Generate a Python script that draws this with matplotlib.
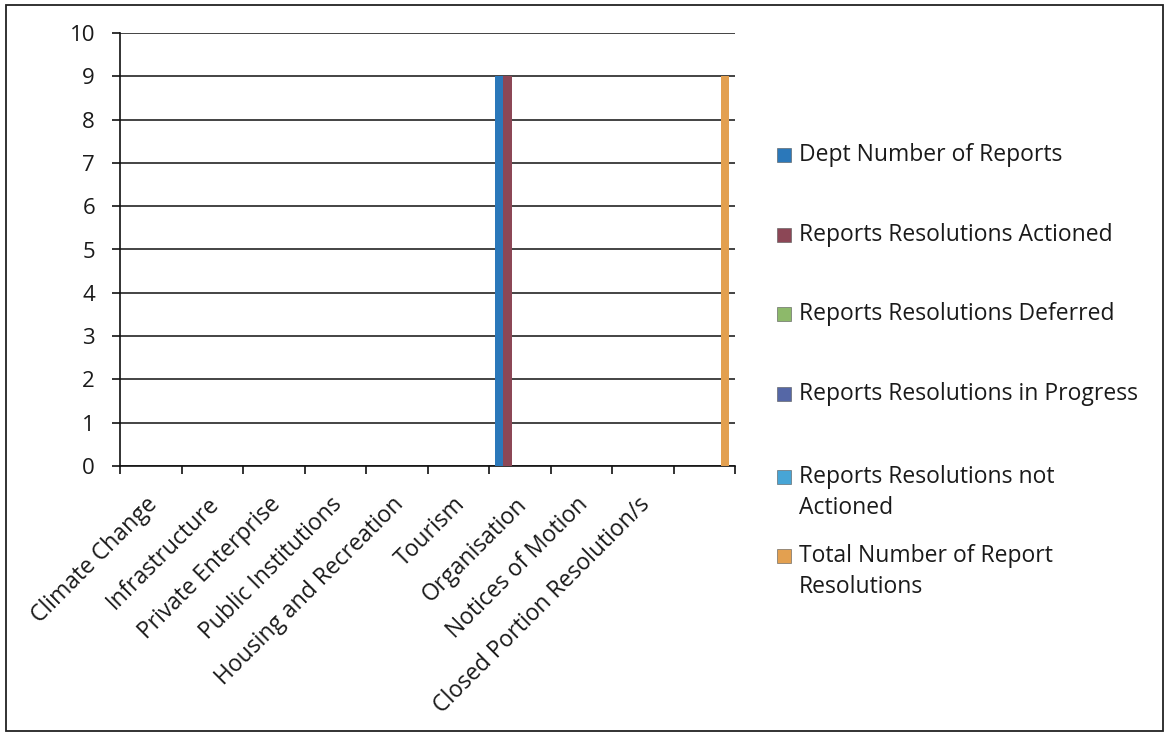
import matplotlib
matplotlib.use("Agg")
import matplotlib.pyplot as plt
from matplotlib.patches import Rectangle
import numpy as np

plt.rcParams['font.family'] = ['Open Sans', 'DejaVu Sans']

categories = ["Climate Change", "Infrastructure", "Private Enterprise",
              "Public Institutions", "Housing and Recreation", "Tourism",
              "Organisation", "Notices of Motion", "Closed Portion Resolution/s", ""]
series_names = ["Dept Number of Reports", "Reports Resolutions Actioned",
                "Reports Resolutions Deferred", "Reports Resolutions in Progress",
                "Reports Resolutions not\nActioned", "Total Number of Report\nResolutions"]
dept_reports = [0, 0, 0, 0, 0, 0, 9, 0, 0, 0]
res_actioned = [0, 0, 0, 0, 0, 0, 9, 0, 0, 0]
res_deferred = [0, 0, 0, 0, 0, 0, 0, 0, 0, 0]
res_progress = [0, 0, 0, 0, 0, 0, 0, 0, 0, 0]
res_not_actioned = [0, 0, 0, 0, 0, 0, 0, 0, 0, 0]
total_resolutions = [0, 0, 0, 0, 0, 0, 0, 0, 0, 9]
yticks = [0, 1, 2, 3, 4, 5, 6, 7, 8, 9, 10]

series_values = [dept_reports, res_actioned, res_deferred, res_progress,
                 res_not_actioned, total_resolutions]
colors = ['#2B78BA', '#8C4756', '#8DB96A', '#5567A6', '#47A5D6', '#E3A050']

W, H = 1166, 736
fig = plt.figure(figsize=(W / 100, H / 100), dpi=100)
ax = fig.add_axes([120 / W, 1 - 466 / H, (735 - 120) / W, (466 - 33) / H])

n = len(series_values)
gap = 1.5
bw = 1.0 / (n + gap)
x = np.arange(len(categories))
for i, (vals, c) in enumerate(zip(series_values, colors)):
    offs = -0.5 + gap / 2 * bw + (i + 0.5) * bw
    ax.bar(x + offs, vals, width=bw, color=c, zorder=3, linewidth=0)

ax.set_xlim(-0.5, len(categories) - 0.5)
ax.set_ylim(0, 10)
ax.set_yticks(yticks)
ax.set_yticklabels([str(v) for v in yticks], fontsize=16, color='#1a1a1a')
ax.yaxis.grid(True, color='#111111', linewidth=1.1, zorder=1)
ax.set_axisbelow(True)

# category labels (major ticks hidden, nudged slightly left like the original)
ax.set_xticks(x - 0.08)
ax.set_xticklabels(categories, rotation=45, ha='right', va='top',
                   rotation_mode='anchor', fontsize=16.5, color='#1a1a1a')
ax.set_xticks(np.arange(len(categories) + 1) - 0.5, minor=True)
ax.tick_params(axis='x', which='major', length=0, pad=19)
ax.tick_params(axis='x', which='minor', length=6, width=1.2, color='#111111', direction='out')
ax.tick_params(axis='y', length=6, width=1.2, color='#111111', pad=12, direction='out')

for s in ['top', 'right']:
    ax.spines[s].set_visible(False)
for s in ['left', 'bottom']:
    ax.spines[s].set_color('#111111')
    ax.spines[s].set_linewidth(1.2)

# legend drawn manually to match layout
leg_y = [155, 235, 314, 394, 477, 556]
line_gap = 31
for name, c, yc in zip(series_names, colors, leg_y):
    fig.add_artist(Rectangle((777 / W, 1 - (yc + 7) / H), 14 / W, 14 / H,
                             transform=fig.transFigure, facecolor=c,
                             edgecolor='#555555', linewidth=0.4))
    for k, line in enumerate(name.split('\n')):
        fig.text(799 / W, 1 - (yc + k * line_gap) / H, line, fontsize=16.5,
                 va='center', ha='left', color='#1a1a1a')

# outer border
fig.add_artist(Rectangle((6 / W, 1 - 731 / H), (1163 - 6) / W, (731 - 5) / H,
                         transform=fig.transFigure, fill=False,
                         edgecolor='#222222', linewidth=1.3))

fig.savefig("out.png", dpi=100)
